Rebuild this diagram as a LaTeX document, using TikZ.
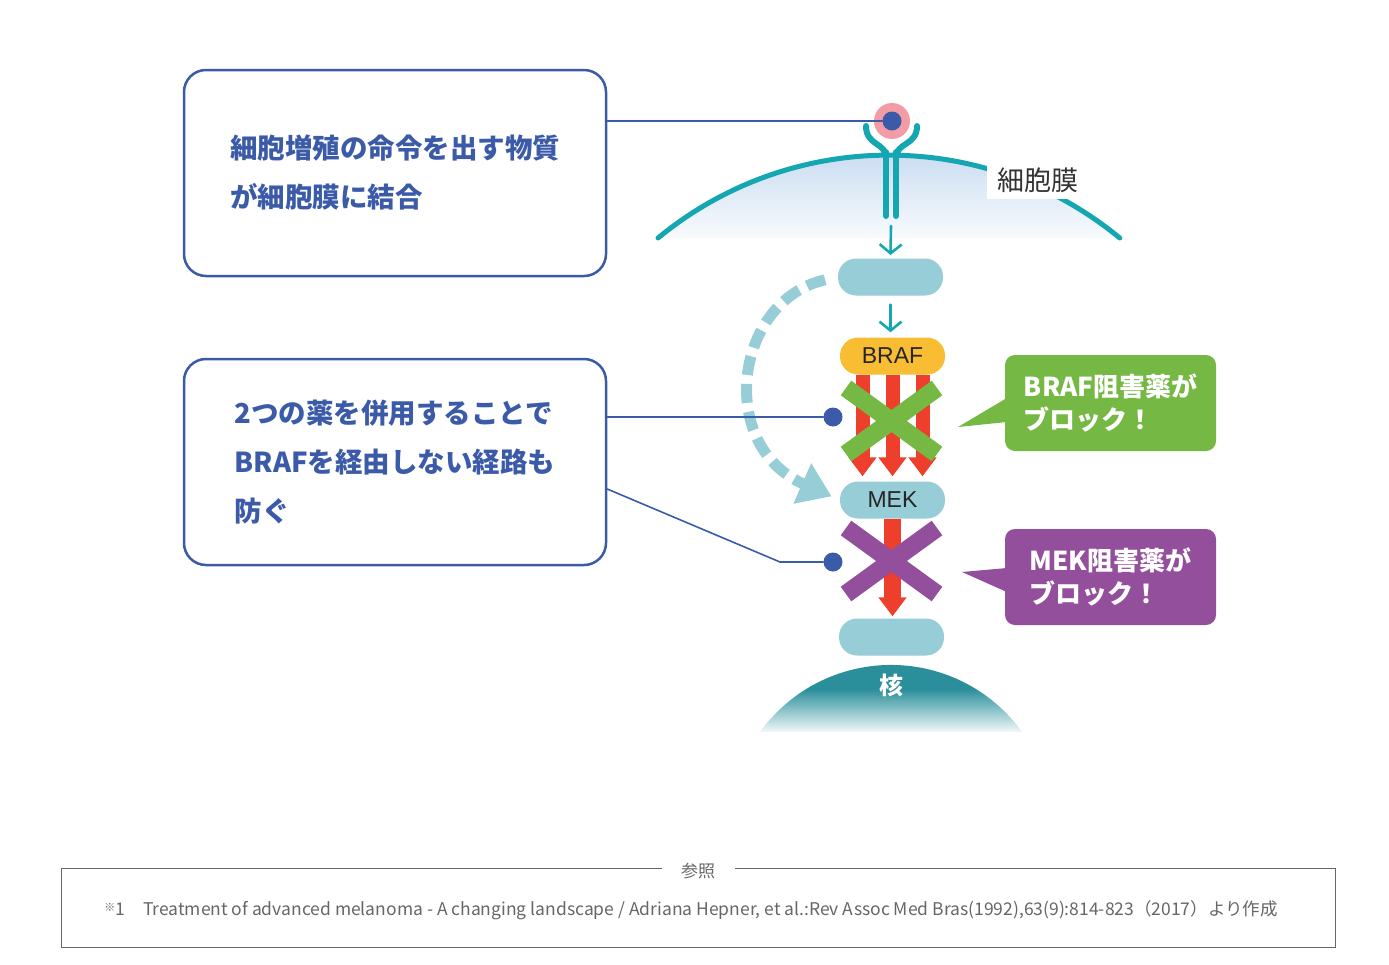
\documentclass[tikz,border=0pt]{standalone}
\usepackage{fontspec}
\setmainfont{Noto Sans CJK JP}
\newfontfamily\arialfont{Liberation Sans}
\usetikzlibrary{arrows.meta,calc}

\definecolor{boxblue}{HTML}{3B5BA9}
\definecolor{membteal}{HTML}{14A7B1}
\definecolor{membfill}{HTML}{BCD4EE}
\definecolor{pillblue}{HTML}{97CDD6}
\definecolor{brafyellow}{HTML}{F8BD33}
\definecolor{sigred}{HTML}{EE3E2C}
\definecolor{blockgreen}{HTML}{75B843}
\definecolor{blockpurple}{HTML}{944F9C}
\definecolor{ligpink}{HTML}{F49CA5}
\definecolor{nucteal}{HTML}{2A8E9B}
\definecolor{refgray}{HTML}{666666}

\pgfdeclareverticalshading{membfade}{100bp}{color(0bp)=(membfill!10!white); color(25bp)=(membfill!10!white); color(50bp)=(membfill!55!white); color(75bp)=(membfill); color(100bp)=(membfill)}
\pgfdeclareverticalshading{nucfade}{100bp}{color(0bp)=(nucteal!6!white); color(25bp)=(nucteal!6!white); color(55bp)=(nucteal); color(100bp)=(nucteal)}

\begin{document}
\begin{tikzpicture}[x=1pt, y=-1pt, line cap=round,
  infobox/.style={draw=boxblue, line width=2.5pt, rounded corners=22pt, minimum width=422pt, minimum height=206pt,
    align=left, text=boxblue, font=\bfseries\fontsize{27.5}{49}\selectfont},
  pill/.style={fill=pillblue, rounded corners=18pt, minimum width=105pt, minimum height=37pt,
    font=\arialfont\fontsize{23}{23}\selectfont, text=black!85},
  tipbox/.style={rounded corners=10pt, minimum width=211pt, minimum height=96pt, text=white,
    align=left, font=\bfseries\fontsize{26}{33}\selectfont},
  dot/.style={circle, fill=boxblue, inner sep=0pt, minimum size=19pt},
  link/.style={draw=boxblue, line width=1.6pt},
  membrane/.style={draw=membteal, line width=5pt},
  recep/.style={draw=membteal, line width=6pt},
  sigstep/.style={draw=membteal, line width=2.6pt, -{Straight Barb[length=9pt, width=22pt]}},
  redarrow/.style={draw=sigred, line cap=butt, -{Triangle[width=27pt, length=19pt]}},
  xbar/.style={line width=18pt, line cap=butt},
  bypass/.style={draw=pillblue, line width=11pt, line cap=butt, dash pattern=on 19pt off 9pt,
    -{Triangle[width=42pt, length=32pt]}}]

  \useasboundingbox (0,0) rectangle (1389,964);

  % cell membrane with receptor
  \shade[shading=membfade] (658,238) arc[start angle=-129.5, end angle=-50.5, radius=363] -- cycle;
  \draw[membrane] (658,238) arc[start angle=-129.5, end angle=-50.5, radius=363];
  \node[fill=white, minimum width=102pt, minimum height=38pt, text=black!80, font=\fontsize{27}{27}\selectfont] (memb) at (1038,180) {細胞膜};

  \draw[recep] (886,152) -- (886,216);
  \draw[recep] (896,152) -- (896,216);
  \draw[recep] (866,126) .. controls (866,146) and (886,142) .. (886,158);
  \draw[recep] (917,126) .. controls (917,146) and (896,142) .. (896,158);
  \fill[ligpink] (892,121) circle (18);
  \node[dot] (rec) at (892,121) {};

  % signalling chain
  \node[pill] (p1) at (890.5,277) {};
  \node[pill, fill=brafyellow] (braf) at (892.5,356) {BRAF};
  \node[pill] (mek) at (892.5,500) {MEK};
  \node[pill] (p3) at (891.5,637) {};

  \draw[sigstep] (891,226) -- (p1.north |- 0,255);
  \draw[sigstep, shorten <=9pt, shorten >=5pt] (p1.south) -- (p1.south |- braf.north);

  \foreach \dx in {-30,0,30}
    \draw[redarrow, line width=14pt, shorten >=5pt] ([xshift=\dx pt]braf.south) -- ([xshift=\dx pt]mek.north);
  \draw[redarrow, line width=17pt, shorten >=2pt] (mek.south) -- (mek.south |- p3.north);

  \draw[bypass, shorten <=13pt, shorten >=9pt] (p1.west) .. controls (735,300) and (715,445) .. (mek.west);

  \draw[xbar, draw=blockgreen] (846,388) -- (937,454) (937,388) -- (846,454);
  \draw[xbar, draw=blockpurple] (846,528) -- (937,594) (937,528) -- (846,594);

  % nucleus
  \shade[shading=nucfade] (760,732) arc[start angle=-144.2, end angle=-35.8, radius=161.6] -- cycle;
  \node[text=white, font=\bfseries\fontsize{24}{24}\selectfont] (nuc) at (891,685) {核};

  % explanation boxes
  \node[infobox] (sig) at (395,173) {細胞増殖の命令を出す物質\\が細胞膜に結合};
  \node[infobox] (combo) at (395,462) {2つの薬を併用することで\\BRAFを経由しない経路も\\防ぐ};

  \node[dot] (d1) at (833,417) {};
  \node[dot] (d2) at (833,562) {};
  \coordinate (bend) at (780,562);
  \draw[link] (rec -| sig.east) -- (rec);
  \draw[link] (d1 -| combo.east) -- (d1);
  \draw[link] ([yshift=-27pt]combo.east) -- (bend) -- (d2);

  % inhibitor callouts
  \node[tipbox, fill=blockgreen] (braftip) at (1110.5,403) {BRAF阻害薬が\\ブロック！};
  \fill[blockgreen] ([xshift=2pt, yshift=5pt]braftip.west) -- (958,427) -- ([xshift=2pt, yshift=-19pt]braftip.west) -- cycle;
  \node[tipbox, fill=blockpurple] (mektip) at (1110.5,577) {MEK阻害薬が\\ブロック！};
  \fill[blockpurple] ([xshift=2pt, yshift=9pt]mektip.west) -- (962,572) -- ([xshift=2pt, yshift=-15pt]mektip.west) -- cycle;

  % reference
  \draw[refgray, line width=1pt, line cap=butt] (662,868) -- (61,868) -- (61,947) -- (1335,947) -- (1335,868) -- (735,868);
  \node[text=refgray, font=\fontsize{17}{17}\selectfont] (reftitle) at (698,871) {参照};
  \node[text=refgray, font=\fontsize{17.5}{17.5}\selectfont] (cite) at (691,910)
    {{\fontsize{11}{11}\selectfont\raisebox{4pt}{※}}1\hspace{18pt}Treatment of advanced melanoma - A changing landscape / Adriana Hepner, et al.:Rev Assoc Med Bras(1992),63(9):814-823（2017）より作成};
\end{tikzpicture}
\end{document}
